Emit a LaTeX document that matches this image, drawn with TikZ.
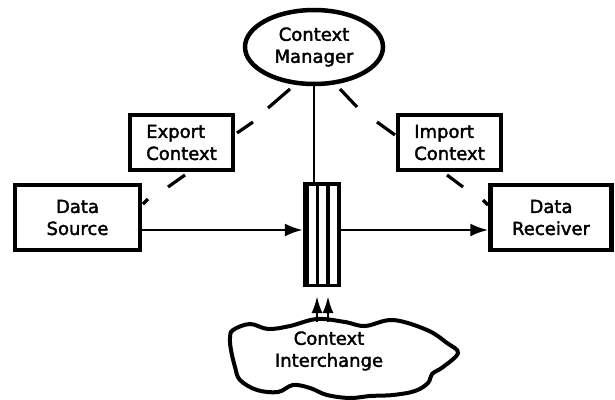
\documentclass[tikz,border=0pt]{standalone}
\usepackage{fontspec}
\setmainfont{DejaVu Sans}
\usetikzlibrary{shapes.geometric,arrows.meta,calc}
\begin{document}
\begin{tikzpicture}[x=1pt,y=-1pt,
  every node/.style={font=\fontsize{18}{22}\selectfont\addfontfeature{FakeBold=2}},
  boxnode/.style={draw,line width=4.5pt,rectangle,inner sep=0pt},
  conn/.style={line width=2.6pt},
  stub/.style={line width=3.2pt},
  tip/.style={-{Latex[length=18pt,width=13pt]}},
  uptip/.style={-{Latex[length=17pt,width=11pt]}}
]
\useasboundingbox (0,0) rectangle (615,399);

% nodes
\node[draw,ellipse,line width=4.5pt,minimum width=138pt,minimum height=74pt,inner sep=0pt,align=center] (cm) at (314,47) {Context\\Manager};
\node[boxnode,minimum width=103pt,minimum height=55pt,align=left] (exp) at (181.5,142.5) {Export\\Context};
\node[boxnode,minimum width=103pt,minimum height=55pt,align=left] (imp) at (449.5,142.5) {Import\\Context};
\node[boxnode,minimum width=125pt,minimum height=65pt,align=center] (src) at (77.5,217.5) {Data\\Source};
\node[boxnode,minimum width=121pt,minimum height=65pt,align=center] (rcv) at (551,217.5) {Data\\Receiver};
\node[fill=black,rectangle,inner sep=0pt,minimum width=38pt,minimum height=105pt] (pipe) at (322,234.5) {};
\fill[white] ($(pipe.north west)+(6,4)$) rectangle ($(pipe.south west)+(13,-3)$);
\fill[white] ($(pipe.north west)+(16.5,4)$) rectangle ($(pipe.south west)+(23.5,-3)$);
\fill[white] ($(pipe.north west)+(27,4)$) rectangle ($(pipe.south west)+(34,-3)$);

% cloud
\draw[line width=4pt] plot[smooth cycle,tension=0.6] coordinates {
  (233,330) (250,324) (268,329) (290,326) (317,319) (345,322) (365,326)
  (393,320) (427,330) (447,343) (458,353) (443,367) (432,374) (428,383)
  (415,391) (393,395) (370,396) (350,398) (327,395) (310,388) (293,385)
  (278,392) (257,390) (240,380) (235,367) (231,350) (230,338)};
\node[align=center] (ci) at (329,351) {Context\\Interchange};

% main connectors
\draw[conn,tip] (src.east |- 0,230) -- (pipe.west |- 0,230);
\draw[conn,tip] (pipe.east |- 0,230) -- (rcv.west |- 0,230);
\draw[conn] (cm.south) -- (cm.south |- pipe.north);

% arrows from cloud
\coordinate (ca1) at (317,322);
\coordinate (ca2) at (328,322);
\draw[conn,uptip] (ca1) -- (317,296);
\draw[conn,uptip] (ca2) -- (328,296);

% stubs (broken links)
\coordinate (s1a) at (290,89);  \coordinate (s1b) at (268,108);
\coordinate (s2a) at (237,133); \coordinate (s2b) at (253,122);
\coordinate (s3a) at (168,187); \coordinate (s3b) at (185,175);
\coordinate (s4a) at (143,204); \coordinate (s4b) at (148,199);
\coordinate (s5a) at (340,89);  \coordinate (s5b) at (357,107);
\coordinate (s6a) at (377,122); \coordinate (s6b) at (395,135);
\coordinate (s7a) at (447,175); \coordinate (s7b) at (463,187);
\coordinate (s8a) at (483,200); \coordinate (s8b) at (488,205);
\foreach \s in {1,...,8} {\draw[stub] (s\s a) -- (s\s b);}
\end{tikzpicture}
\end{document}
